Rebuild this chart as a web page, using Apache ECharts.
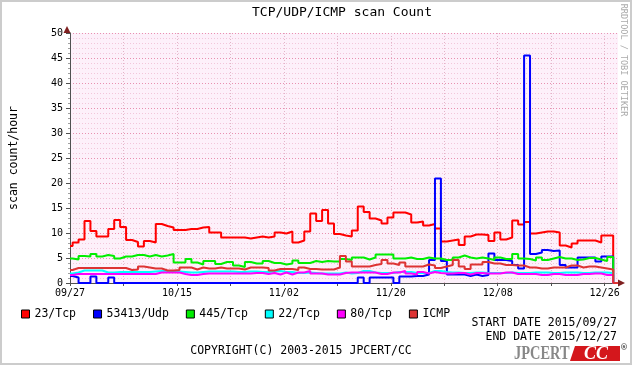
<!DOCTYPE html>
<html><head><meta charset="utf-8">
<script src="https://cdn.jsdelivr.net/npm/echarts@6/dist/echarts.min.js"></script>
<style>html,body{margin:0;padding:0;background:#fff}#c{width:632px;height:365px}</style>
</head><body><div id="c"></div>
<script>
// ---- data ----
const seriesNames = ['23/Tcp', '53413/Udp', '445/Tcp', '22/Tcp', '80/Tcp', 'ICMP'];
const seriesColors = ['#ff0000', '#0000ff', '#00ee00', '#00ffff', '#ff00ff', '#dd3333'];
const xTickLabels = ['09/27', '10/15', '11/02', '11/20', '12/08', '12/26'];
const yTicks = [0, 5, 10, 15, 20, 25, 30, 35, 40, 45, 50];
const firstSampleDay = 0.44;   // day offset (from 09/27 00:00) of the first full sample boundary
const lastDataDay = 91.44;     // end of data; after this the graph shows 0
const axisEndDay = 92.25;

const tcp23 = [7.4,
  8.1, 8.7, 12.4, 10.4, 9.3, 9.3, 10.8, 12.6, 11.2, 8.6,
  8.2, 7.3, 8.4, 8.1, 11.8, 11.4, 11.1, 10.6, 10.6, 10.8,
  10.8, 11.1, 11.2, 10.1, 10.1, 9.1, 9.1, 9.1, 9.1, 8.9,
  9.1, 9.3, 9.1, 9.3, 10.1, 9.9, 10.3, 8.1, 8.5, 10.3,
  13.9, 12.4, 14.6, 11.9, 9.8, 9.5, 9.3, 10.5, 15.3, 14.2,
  12.9, 12.5, 11.9, 13.1, 14.1, 14.1, 13.7, 12.1, 12.3, 11.5,
  11.8, 10.9, 8.3, 8.5, 8.7, 7.6, 9.3, 9.7, 9.7, 9.6,
  8.4, 10.1, 8.7, 9.1, 12.5, 11.7, 12.2, 9.9, 10.1, 10.3,
  10.3, 10.1, 7.5, 7.1, 7.9, 8.5, 8.5, 8.5, 8.1, 9.5, 9.5];
const udp53413 = [1.4,
  1.1, 0, 0, 1.3, 0, 0, 1.1, 0, 0, 0,
  0, 0, 0, 0, 0, 0, 0, 0, 0, 0,
  0, 0, 0, 0, 0, 0, 0, 0, 0, 0,
  0, 0, 0, 0, 0, 0, 0, 0, 0, 0,
  0, 0, 0, 0, 0, 0, 0, 0, 1.1, 0,
  1.1, 1.1, 1.1, 1.1, 0, 1.3, 1.3, 1.4, 1.4, 1.7,
  4.6, 20.9, 4.4, 1.7, 1.7, 1.7, 1.4, 1.7, 1.4, 1.6,
  5.9, 4.6, 4.6, 4.4, 3.6, 2.9, 45.5, 5.8, 6.1, 6.6,
  6.4, 6.5, 3.6, 3.1, 3.1, 5.1, 5.1, 5.1, 4.3, 5.3, 5.3];
const tcp445 = [4.9,
  4.7, 5.4, 5.3, 5.8, 5.3, 5.6, 5.4, 4.9, 5.3, 5.3,
  5.6, 5.6, 5.3, 5.6, 5.3, 5.5, 5.8, 4.1, 4.1, 4.8,
  4.1, 3.7, 4.4, 4.4, 3.8, 4.2, 4.2, 3.5, 3.2, 4.2,
  3.9, 3.9, 4.4, 4.0, 4.0, 3.7, 3.9, 4.5, 4.0, 4.0,
  4.4, 4.2, 4.4, 4.3, 4.3, 4.8, 4.6, 5.1, 5.1, 4.7,
  5.1, 5.7, 5.7, 5.7, 4.9, 4.9, 5.1, 4.8, 4.8, 5.1,
  4.9, 4.9, 4.6, 4.6, 5.1, 5.5, 5.1, 4.9, 5.1, 4.9,
  4.6, 5.1, 4.8, 4.8, 5.8, 4.9, 4.8, 4.5, 5.1, 4.6,
  4.9, 5.2, 4.9, 4.9, 4.6, 4.7, 5.0, 5.0, 4.7, 4.4, 5.2];
const tcp22 = [1.9,
  2.1, 2.5, 2.5, 2.5, 2.5, 2.1, 2.1, 2.2, 2.2, 2.2,
  2.2, 2.2, 2.2, 2.3, 2.4, 2.4, 2.3, 2.3, 2.2, 2.1,
  2.1, 2.2, 2.3, 2.3, 2.3, 2.3, 2.3, 2.2, 2.2, 2.3,
  2.3, 2.2, 2.2, 2.3, 2.4, 2.2, 2.2, 2.0, 2.0, 2.1,
  2.0, 1.9, 1.9, 1.9, 1.9, 2.1, 1.9, 2.0, 2.4, 2.4,
  2.1, 2.0, 2.0, 2.0, 2.2, 2.2, 2.2, 2.0, 2.0, 2.0,
  2.4, 2.4, 2.2, 2.1, 2.1, 2.0, 2.0, 2.1, 2.1, 2.0,
  2.0, 2.0, 2.0, 2.1, 2.0, 2.0, 2.0, 2.1, 2.1, 2.1,
  2.0, 2.0, 2.1, 2.1, 2.1, 2.0, 2.0, 2.1, 2.1, 2.1, 2.0];
const tcp80 = [1.6,
  1.8, 1.8, 1.8, 1.8, 1.8, 1.8, 1.8, 1.8, 1.8, 1.8,
  1.8, 1.8, 1.8, 1.8, 2.1, 2.1, 2.1, 2.1, 1.8, 1.6,
  1.6, 1.8, 1.9, 1.9, 1.9, 1.9, 1.9, 1.9, 1.9, 1.9,
  2.0, 2.0, 1.8, 2.0, 1.7, 2.1, 1.7, 2.1, 2.1, 2.4,
  1.9, 1.9, 1.7, 1.7, 1.7, 2.0, 2.1, 2.1, 2.1, 2.1,
  2.1, 1.8, 1.8, 2.1, 2.1, 2.4, 1.9, 1.7, 2.2, 1.9,
  2.2, 2.0, 1.9, 1.9, 2.0, 2.0, 1.7, 2.0, 2.0, 1.9,
  1.9, 1.9, 2.1, 2.1, 1.8, 1.8, 1.8, 1.8, 1.6, 1.6,
  1.8, 1.8, 1.6, 1.6, 1.6, 1.8, 1.8, 1.9, 1.9, 1.6, 1.6];
const icmp = [2.6,
  3.0, 3.0, 3.0, 3.0, 3.0, 3.0, 3.0, 3.0, 3.0, 2.6,
  2.7, 3.3, 3.1, 2.9, 2.9, 2.5, 2.5, 2.6, 3.1, 3.1,
  2.7, 3.1, 2.9, 2.9, 3.1, 2.9, 2.9, 2.9, 2.7, 3.1,
  3.1, 3.1, 3.0, 2.5, 2.8, 2.8, 2.8, 2.6, 3.1, 2.8,
  2.8, 2.7, 2.7, 2.7, 3.1, 5.4, 4.3, 3.3, 3.3, 3.3,
  3.6, 3.8, 4.6, 3.9, 3.6, 4.1, 3.3, 3.3, 3.3, 3.7,
  3.5, 3.0, 3.3, 3.6, 4.6, 3.3, 2.8, 3.7, 3.7, 4.2,
  3.9, 3.9, 3.6, 3.6, 3.5, 3.5, 3.1, 3.1, 2.9, 2.9,
  3.1, 3.1, 3.1, 3.5, 3.5, 3.1, 3.3, 3.3, 3.1, 2.9, 2.7];
const allValues = [tcp23, udp53413, tcp445, tcp22, tcp80, icmp];

// ---- build ----
function toPoints(vals) {
  const pts = vals.map((v, i) => [i === 0 ? 0 : firstSampleDay + (i - 1), v]);
  pts.push([lastDataDay, 0]);
  pts.push([axisEndDay, 0]);
  return pts;
}
const MONO = 'DejaVu Sans Mono';
const chart = echarts.init(document.getElementById('c'), null, {renderer: 'canvas'});
const option = {
  animation: false,
  backgroundColor: '#ffffff',
  grid: {left: 67, right: 14, top: 33, bottom: 82, show: true, backgroundColor: '#fdf0fa', borderWidth: 0},
  legend: {
    data: seriesNames, left: 16, top: 303, icon: 'rect', itemWidth: 8, itemHeight: 8, itemGap: 17,
    selectedMode: false,
    itemStyle: {borderColor: '#000', borderWidth: 1},
    textStyle: {fontFamily: MONO, fontSize: 11.5, color: '#000'}
  },
  xAxis: {
    type: 'value', min: 0, max: axisEndDay, interval: 9,
    axisLine: {show: true, onZero: false, lineStyle: {color: '#505050', width: 1}},
    axisTick: {show: true, length: 3, lineStyle: {color: '#505050'}},
    axisLabel: {
      fontFamily: MONO, fontSize: 10, color: '#000', margin: 5,
      formatter: v => (Math.abs(v % 18) < 1e-6 && v / 18 < xTickLabels.length) ? xTickLabels[Math.round(v / 18)] : ''
    },
    splitLine: {show: true, showMinLine: false, showMaxLine: false, lineStyle: {color: '#e2b4c8', type: [1, 2]}}
  },
  yAxis: {
    type: 'value', min: yTicks[0], max: yTicks[yTicks.length - 1], interval: 5,
    name: 'scan count/hour', nameLocation: 'middle', nameGap: 50, nameRotate: 90,
    nameTextStyle: {fontFamily: MONO, fontSize: 11.5, color: '#000'},
    axisLine: {show: true, lineStyle: {color: '#505050', width: 1}},
    axisTick: {show: true, length: 4, lineStyle: {color: '#505050'}},
    minorTick: {show: true, splitNumber: 5, length: 2, lineStyle: {color: '#a0a0a0'}},
    axisLabel: {fontFamily: MONO, fontSize: 10, color: '#000', margin: 7},
    splitLine: {show: true, lineStyle: {color: '#e890b0', type: [1, 2]}},
    minorSplitLine: {show: true, lineStyle: {color: '#f2c6da', type: [1, 2]}}
  },
  series: seriesNames.map((n, i) => ({
    name: n, type: 'line', step: 'end', showSymbol: false, symbol: 'none',
    data: toPoints(allValues[i]), color: seriesColors[i],
    lineStyle: {width: 2, color: seriesColors[i]}, itemStyle: {color: seriesColors[i]},
    z: 3 + i
  })),
  graphic: [
    {type: 'rect', shape: {x: 1, y: 1, width: 630, height: 363}, style: {fill: 'none', stroke: '#cccccc', lineWidth: 2}, silent: true},
    {type: 'text', x: 342, y: 13, style: {text: 'TCP/UDP/ICMP scan Count', font: '13px "DejaVu Sans Mono"', fill: '#000', align: 'center', verticalAlign: 'middle'}},
    {type: 'text', x: 623, y: 60, rotation: -Math.PI / 2, style: {text: 'RRDTOOL / TOBI OETIKER', font: '8.5px "DejaVu Sans Mono"', fill: '#aaaaaa', align: 'center', verticalAlign: 'middle'}},
    {type: 'polygon', shape: {points: [[67, 26], [63.5, 33], [70.5, 33]]}, style: {fill: '#7f2020'}, z: 10},
    {type: 'polygon', shape: {points: [[625, 283], [618, 279.5], [618, 286.5]]}, style: {fill: '#7f2020'}, z: 10},
    {type: 'text', x: 617, y: 323, style: {text: 'START DATE 2015/09/27', font: '11.5px "DejaVu Sans Mono"', fill: '#000', align: 'right', verticalAlign: 'middle'}},
    {type: 'text', x: 617, y: 337, style: {text: 'END DATE 2015/12/27', font: '11.5px "DejaVu Sans Mono"', fill: '#000', align: 'right', verticalAlign: 'middle'}},
    {type: 'text', x: 301, y: 351, style: {text: 'COPYRIGHT(C) 2003-2015 JPCERT/CC', font: '11.5px "DejaVu Sans Mono"', fill: '#000', align: 'center', verticalAlign: 'middle'}},
    {type: 'text', x: 514, y: 354, scaleX: 0.8, style: {text: 'JPCERT', font: 'bold 18px "Liberation Serif"', fill: '#888888', align: 'left', verticalAlign: 'middle'}},
    {type: 'polygon', shape: {points: [[575, 346], [620, 346], [620, 361], [570, 361]]}, style: {fill: '#d4171c'}},
    {type: 'text', x: 596, y: 354, style: {text: 'CC', font: 'italic bold 18px "Liberation Serif"', fill: '#ffffff', align: 'center', verticalAlign: 'middle'}},
    {type: 'text', x: 624, y: 348, style: {text: '®', font: 'bold 8px "DejaVu Sans"', fill: '#555', align: 'center', verticalAlign: 'middle'}}
  ]
};
chart.setOption(option);
</script>
</body></html>
